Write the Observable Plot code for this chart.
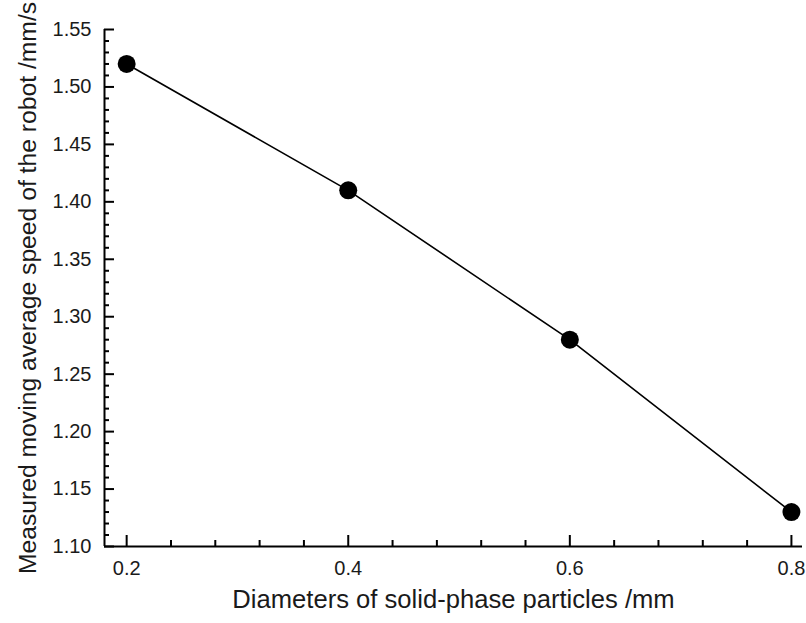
<!DOCTYPE html>
<html>
<head>
<meta charset="utf-8">
<script src="https://cdn.jsdelivr.net/npm/d3@7"></script>
<script src="https://cdn.jsdelivr.net/npm/@observablehq/plot@0.6"></script>
<style>
  html, body { margin: 0; padding: 0; background: #fff; }
  #chart svg { display: block; }
</style>
</head>
<body>
<div id="chart"></div>
<script>
// Data
const diameters = [0.2, 0.4, 0.6, 0.8];
const speeds = [1.52, 1.41, 1.28, 1.13];

// Axis ticks
const xMajorTicks = [0.2, 0.4, 0.6, 0.8];
const xMinorTicks = [0.24, 0.28, 0.32, 0.36, 0.44, 0.48, 0.52, 0.56, 0.64, 0.68, 0.72, 0.76];
const yMajorTicks = [1.10, 1.15, 1.20, 1.25, 1.30, 1.35, 1.40, 1.45, 1.50, 1.55];
const yMinorTicks = d3.range(110, 156).map(v => v / 100).filter(v => !yMajorTicks.some(t => Math.abs(t - v) < 1e-9));

const xTitle = "Diameters of solid-phase particles /mm";
const yTitle = "Measured moving average speed of the robot /mm/s";

const xDomain = [0.18, 0.81];
const yDomain = [1.10, 1.55];

const data = diameters.map((d, i) => ({d, s: speeds[i]}));

const textColor = "#1a1a1a";

const chart = Plot.plot({
  width: 806,
  height: 623,
  marginLeft: 104,
  marginRight: 4,
  marginTop: 29,
  marginBottom: 77,
  style: {fontFamily: "'Liberation Sans', Arial, Helvetica, sans-serif", background: "#fff", color: textColor},
  x: {domain: xDomain},
  y: {domain: yDomain},
  marks: [
    // tick labels
    Plot.axisX({ticks: xMajorTicks, tickSize: 0, tickPadding: 14, fontSize: 20, tickFormat: d3.format(".1f"), label: null, fill: textColor}),
    Plot.axisY({ticks: yMajorTicks, tickSize: 0, tickPadding: 13, fontSize: 20, tickFormat: d3.format(".2f"), label: null, fill: textColor}),
    // inward ticks
    Plot.axisX({ticks: xMajorTicks, tickSize: -11, text: null, label: null, strokeWidth: 2, stroke: "#000"}),
    Plot.axisX({ticks: xMinorTicks, tickSize: -6, text: null, label: null, strokeWidth: 2, stroke: "#000"}),
    Plot.axisY({ticks: yMajorTicks, tickSize: -10, text: null, label: null, strokeWidth: 2, stroke: "#000"}),
    Plot.axisY({ticks: yMinorTicks, tickSize: -5, text: null, label: null, strokeWidth: 2, stroke: "#000"}),
    // axis lines
    Plot.ruleX([xDomain[0]], {stroke: "#000", strokeWidth: 2}),
    Plot.ruleY([yDomain[0]], {stroke: "#000", strokeWidth: 2}),
    // axis titles
    Plot.text([xTitle], {frameAnchor: "bottom", textAnchor: "middle", dy: 61, fontSize: 25.6, fill: textColor}),
    Plot.text([yTitle], {frameAnchor: "left", textAnchor: "middle", rotate: -90, dx: -76, fontSize: 24.7, fill: textColor}),
    // data
    Plot.line(data, {x: "d", y: "s", stroke: "#000", strokeWidth: 1.6}),
    Plot.dot(data, {x: "d", y: "s", r: 9, fill: "#000", stroke: "none"})
  ]
});

document.getElementById("chart").appendChild(chart);
</script>
</body>
</html>
